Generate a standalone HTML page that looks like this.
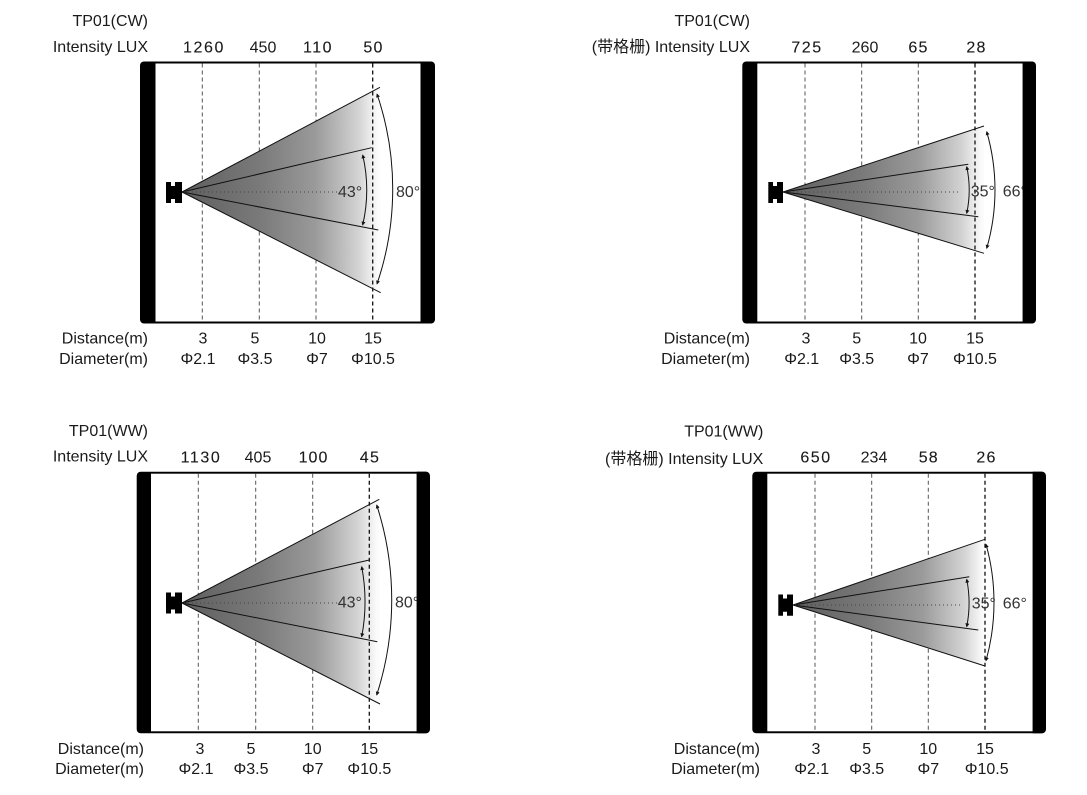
<!DOCTYPE html>
<html><head><meta charset="utf-8"><style>
html,body{margin:0;padding:0;background:#fff;}
svg{display:block;}
text{font-family:"Liberation Sans","Noto Sans CJK SC",sans-serif;font-size:16px;fill:#1a1a1a;}
.r{text-anchor:end;}
.m{text-anchor:middle;}
.n{text-anchor:middle;letter-spacing:1.2px;stroke:#1a1a1a;stroke-width:0.12px;}
.deg{fill:#333;}
.dash{stroke:#555;stroke-width:1;stroke-dasharray:4 3;}
.dash15{stroke:#111;stroke-width:1.3;stroke-dasharray:4 3;}
.bl{stroke:#111;stroke-width:1;fill:none;}
.dot{stroke:#444;stroke-width:1;stroke-dasharray:1 3;}
.arc{stroke:#111;stroke-width:1;fill:none;marker-start:url(#ah);marker-end:url(#ah);}
</style></head><body>
<svg width="1087" height="795" viewBox="0 0 1087 795" xmlns="http://www.w3.org/2000/svg">
<defs>
<marker id="ah" viewBox="0 0 6 6" refX="5" refY="3" markerWidth="4" markerHeight="4" orient="auto-start-reverse" markerUnits="userSpaceOnUse">
<path d="M0,0 L6,3 L0,6 Z" fill="#111"/>
</marker>
<linearGradient id="g1" gradientUnits="userSpaceOnUse" x1="182" y1="0" x2="378" y2="0">
<stop offset="0" stop-color="#5e5e5e"/><stop offset="0.4" stop-color="#7a7a7a"/><stop offset="0.68" stop-color="#9a9a9a"/><stop offset="0.9" stop-color="#d3d3d3"/><stop offset="1" stop-color="#fbfbfb"/>
</linearGradient>
<linearGradient id="g2" gradientUnits="userSpaceOnUse" x1="783" y1="0" x2="982" y2="0">
<stop offset="0" stop-color="#5e5e5e"/><stop offset="0.4" stop-color="#7a7a7a"/><stop offset="0.68" stop-color="#9a9a9a"/><stop offset="0.9" stop-color="#d3d3d3"/><stop offset="1" stop-color="#fbfbfb"/>
</linearGradient>
<linearGradient id="g3" gradientUnits="userSpaceOnUse" x1="182" y1="0" x2="377" y2="0">
<stop offset="0" stop-color="#5e5e5e"/><stop offset="0.4" stop-color="#7a7a7a"/><stop offset="0.68" stop-color="#9a9a9a"/><stop offset="0.9" stop-color="#d3d3d3"/><stop offset="1" stop-color="#fbfbfb"/>
</linearGradient>
<linearGradient id="g4" gradientUnits="userSpaceOnUse" x1="793" y1="0" x2="983" y2="0">
<stop offset="0" stop-color="#5e5e5e"/><stop offset="0.4" stop-color="#7a7a7a"/><stop offset="0.68" stop-color="#9a9a9a"/><stop offset="0.9" stop-color="#d3d3d3"/><stop offset="1" stop-color="#fbfbfb"/>
</linearGradient>
</defs>

<!-- ===== Panel TL ===== -->
<rect x="140" y="61.5" width="295" height="262" rx="4" fill="#000"/>
<rect x="155.5" y="63.5" width="265" height="258" fill="#fff"/>
<line class="dash" x1="202.3" y1="63.5" x2="202.3" y2="321.5"/>
<line class="dash" x1="259.3" y1="63.5" x2="259.3" y2="321.5"/>
<line class="dash" x1="316" y1="63.5" x2="316" y2="321.5"/>
<polygon points="182,192 380,87.3 380.7,292.7" fill="url(#g1)"/>
<line class="dash15" x1="372.7" y1="63.5" x2="372.7" y2="321.5"/>
<line class="bl" x1="182" y1="192" x2="380" y2="87.3"/>
<line class="bl" x1="182" y1="192" x2="380.7" y2="292.7"/>
<line class="bl" x1="182" y1="192" x2="371.7" y2="147.7"/>
<line class="bl" x1="182" y1="192" x2="378.3" y2="230"/>
<line class="dot" x1="184" y1="192" x2="338" y2="192"/>
<path d="M166,182 H171 V186 H175 V182 H182 V203 H175 V199 H171 V203 H166 Z" fill="#000"/>
<path class="arc" d="M377,94 A295,295 0 0 1 377,284"/>
<path class="arc" d="M362.7,155 A155,155 0 0 1 362.7,225"/>
<text class="deg" x="338" y="197">43°</text>
<text class="deg" x="396" y="197">80°</text>
<rect x="420.5" y="61.5" width="11" height="262" fill="#000"/>
<text class="r" x="148" y="26">TP01(CW)</text>
<text class="r" x="148" y="52">Intensity LUX</text>
<text class="n" x="204" y="52.7" style="letter-spacing:1.6px">1260</text>
<text class="m" x="263" y="52.7">450</text>
<text class="n" x="318" y="52.7" style="letter-spacing:1.5px">110</text>
<text class="n" x="373.5" y="52.7">50</text>
<text class="r" x="148" y="343.5">Distance(m)</text>
<text class="r" x="148" y="364">Diameter(m)</text>
<text class="m" x="203" y="343.5">3</text>
<text class="m" x="255" y="343.5">5</text>
<text class="m" x="317" y="343.5">10</text>
<text class="m" x="373" y="343.5">15</text>
<text class="m" x="198" y="364">Φ2.1</text>
<text class="m" x="255" y="364">Φ3.5</text>
<text class="m" x="317" y="364">Φ7</text>
<text class="m" x="373" y="364">Φ10.5</text>

<!-- ===== Panel TR ===== -->
<rect x="742.3" y="61.5" width="293.7" height="262" rx="4" fill="#000"/>
<rect x="757.3" y="63.5" width="265.4" height="258" fill="#fff"/>
<line class="dash" x1="805" y1="63.5" x2="805" y2="321.5"/>
<line class="dash" x1="861.7" y1="63.5" x2="861.7" y2="321.5"/>
<line class="dash" x1="918.3" y1="63.5" x2="918.3" y2="321.5"/>
<polygon points="783,192 984,126 984,253.3" fill="url(#g2)"/>
<line class="dash15" x1="975" y1="63.5" x2="975" y2="321.5"/>
<line class="bl" x1="783" y1="192" x2="984" y2="126"/>
<line class="bl" x1="783" y1="192" x2="984" y2="253.3"/>
<line class="bl" x1="783" y1="192" x2="968.3" y2="164.3"/>
<line class="bl" x1="783" y1="192" x2="978.3" y2="216.7"/>
<line class="dot" x1="785" y1="192" x2="960" y2="192"/>
<path d="M768.3,182 H773 V186 H777 V182 H783 V203 H777 V199 H773 V203 H768.3 Z" fill="#000"/>
<path class="arc" d="M986.7,131.7 A209,209 0 0 1 986.7,248.3"/>
<path class="arc" d="M966.7,166.7 A110,110 0 0 1 966.7,213.3"/>
<text class="deg" x="970.7" y="196.5">35°</text>
<text class="deg" x="1002.7" y="196.5">66°</text>
<rect x="1022.7" y="61.5" width="10" height="262" fill="#000"/>
<text class="r" x="750" y="26">TP01(CW)</text>
<text class="r" x="750" y="52">(带格栅) Intensity LUX</text>
<text class="n" x="807" y="52.7" style="letter-spacing:1.5px">725</text>
<text class="m" x="865" y="52.7">260</text>
<text class="n" x="918.5" y="52.7">65</text>
<text class="n" x="976.5" y="52.7">28</text>
<text class="r" x="750" y="343.5">Distance(m)</text>
<text class="r" x="750" y="364">Diameter(m)</text>
<text class="m" x="806" y="343.5">3</text>
<text class="m" x="856.7" y="343.5">5</text>
<text class="m" x="918" y="343.5">10</text>
<text class="m" x="975" y="343.5">15</text>
<text class="m" x="801.7" y="364">Φ2.1</text>
<text class="m" x="856.7" y="364">Φ3.5</text>
<text class="m" x="918" y="364">Φ7</text>
<text class="m" x="975" y="364">Φ10.5</text>

<!-- ===== Panel BL ===== -->
<rect x="136.7" y="471.7" width="293.3" height="261.6" rx="4" fill="#000"/>
<rect x="151" y="473.7" width="265.7" height="257.6" fill="#fff"/>
<line class="dash" x1="198.3" y1="473.7" x2="198.3" y2="731.3"/>
<line class="dash" x1="255.7" y1="473.7" x2="255.7" y2="731.3"/>
<line class="dash" x1="312.7" y1="473.7" x2="312.7" y2="731.3"/>
<polygon points="182,603 379.3,499.3 380,704" fill="url(#g3)"/>
<line class="dash15" x1="369.3" y1="473.7" x2="369.3" y2="731.3"/>
<line class="bl" x1="182" y1="603" x2="379.3" y2="499.3"/>
<line class="bl" x1="182" y1="603" x2="380" y2="704"/>
<line class="bl" x1="182" y1="603" x2="369.3" y2="560"/>
<line class="bl" x1="182" y1="603" x2="377.3" y2="641.7"/>
<line class="dot" x1="184" y1="603" x2="338" y2="603"/>
<path d="M166,592.5 H171 V596.5 H175 V592.5 H182 V613.5 H175 V609.5 H171 V613.5 H166 Z" fill="#000"/>
<path class="arc" d="M376.7,505 A308,308 0 0 1 376.7,695"/>
<path class="arc" d="M361.7,566.7 A187,187 0 0 1 361.7,636.7"/>
<text class="deg" x="337.7" y="607.7">43°</text>
<text class="deg" x="395" y="607.7">80°</text>
<rect x="416.7" y="471.7" width="10" height="261.6" fill="#000"/>
<text class="r" x="148" y="436">TP01(WW)</text>
<text class="r" x="148" y="461.7">Intensity LUX</text>
<text class="n" x="201" y="462.7" style="letter-spacing:1.6px">1130</text>
<text class="m" x="258" y="462.7">405</text>
<text class="n" x="313.5" y="462.7" style="letter-spacing:1px">100</text>
<text class="n" x="370" y="462.7" style="letter-spacing:1.4px">45</text>
<text class="r" x="144" y="754">Distance(m)</text>
<text class="r" x="144" y="774">Diameter(m)</text>
<text class="m" x="200" y="754">3</text>
<text class="m" x="251" y="754">5</text>
<text class="m" x="312.7" y="754">10</text>
<text class="m" x="369.3" y="754">15</text>
<text class="m" x="196" y="774">Φ2.1</text>
<text class="m" x="251" y="774">Φ3.5</text>
<text class="m" x="312.7" y="774">Φ7</text>
<text class="m" x="369.3" y="774">Φ10.5</text>

<!-- ===== Panel BR ===== -->
<rect x="752.3" y="471.7" width="293.7" height="261.6" rx="4" fill="#000"/>
<rect x="767.3" y="473.7" width="265.4" height="257.6" fill="#fff"/>
<line class="dash" x1="815" y1="473.7" x2="815" y2="731.3"/>
<line class="dash" x1="871.7" y1="473.7" x2="871.7" y2="731.3"/>
<line class="dash" x1="928.3" y1="473.7" x2="928.3" y2="731.3"/>
<polygon points="793,605 985,539.3 985,666" fill="url(#g4)"/>
<line class="dash15" x1="985" y1="473.7" x2="985" y2="731.3"/>
<line class="bl" x1="793" y1="605" x2="985" y2="539.3"/>
<line class="bl" x1="793" y1="605" x2="985" y2="666"/>
<line class="bl" x1="793" y1="605" x2="969.3" y2="576.7"/>
<line class="bl" x1="793" y1="605" x2="978.3" y2="630"/>
<line class="dot" x1="795" y1="605" x2="960" y2="605"/>
<path d="M778.3,594.5 H783 V598.5 H787 V594.5 H793 V615.7 H787 V611.7 H783 V615.7 H778.3 Z" fill="#000"/>
<path class="arc" d="M986,544.3 A216,216 0 0 1 986,660.7"/>
<path class="arc" d="M966.7,579.3 A120,120 0 0 1 966.7,626.7"/>
<text class="deg" x="971.7" y="608.7">35°</text>
<text class="deg" x="1002.7" y="608.7">66°</text>
<rect x="1032.7" y="471.7" width="10" height="261.6" fill="#000"/>
<text class="r" x="763.3" y="436.7">TP01(WW)</text>
<text class="r" x="763.3" y="464">(带格栅) Intensity LUX</text>
<text class="n" x="816" y="462.7" style="letter-spacing:1.5px">650</text>
<text class="m" x="874" y="462.7">234</text>
<text class="n" x="928.8" y="462.7">58</text>
<text class="n" x="986.5" y="462.7">26</text>
<text class="r" x="760" y="754">Distance(m)</text>
<text class="r" x="760" y="774">Diameter(m)</text>
<text class="m" x="816" y="754">3</text>
<text class="m" x="866.7" y="754">5</text>
<text class="m" x="928.3" y="754">10</text>
<text class="m" x="985" y="754">15</text>
<text class="m" x="811.7" y="774">Φ2.1</text>
<text class="m" x="866.7" y="774">Φ3.5</text>
<text class="m" x="928.3" y="774">Φ7</text>
<text class="m" x="986.7" y="774">Φ10.5</text>
</svg>
</body></html>
